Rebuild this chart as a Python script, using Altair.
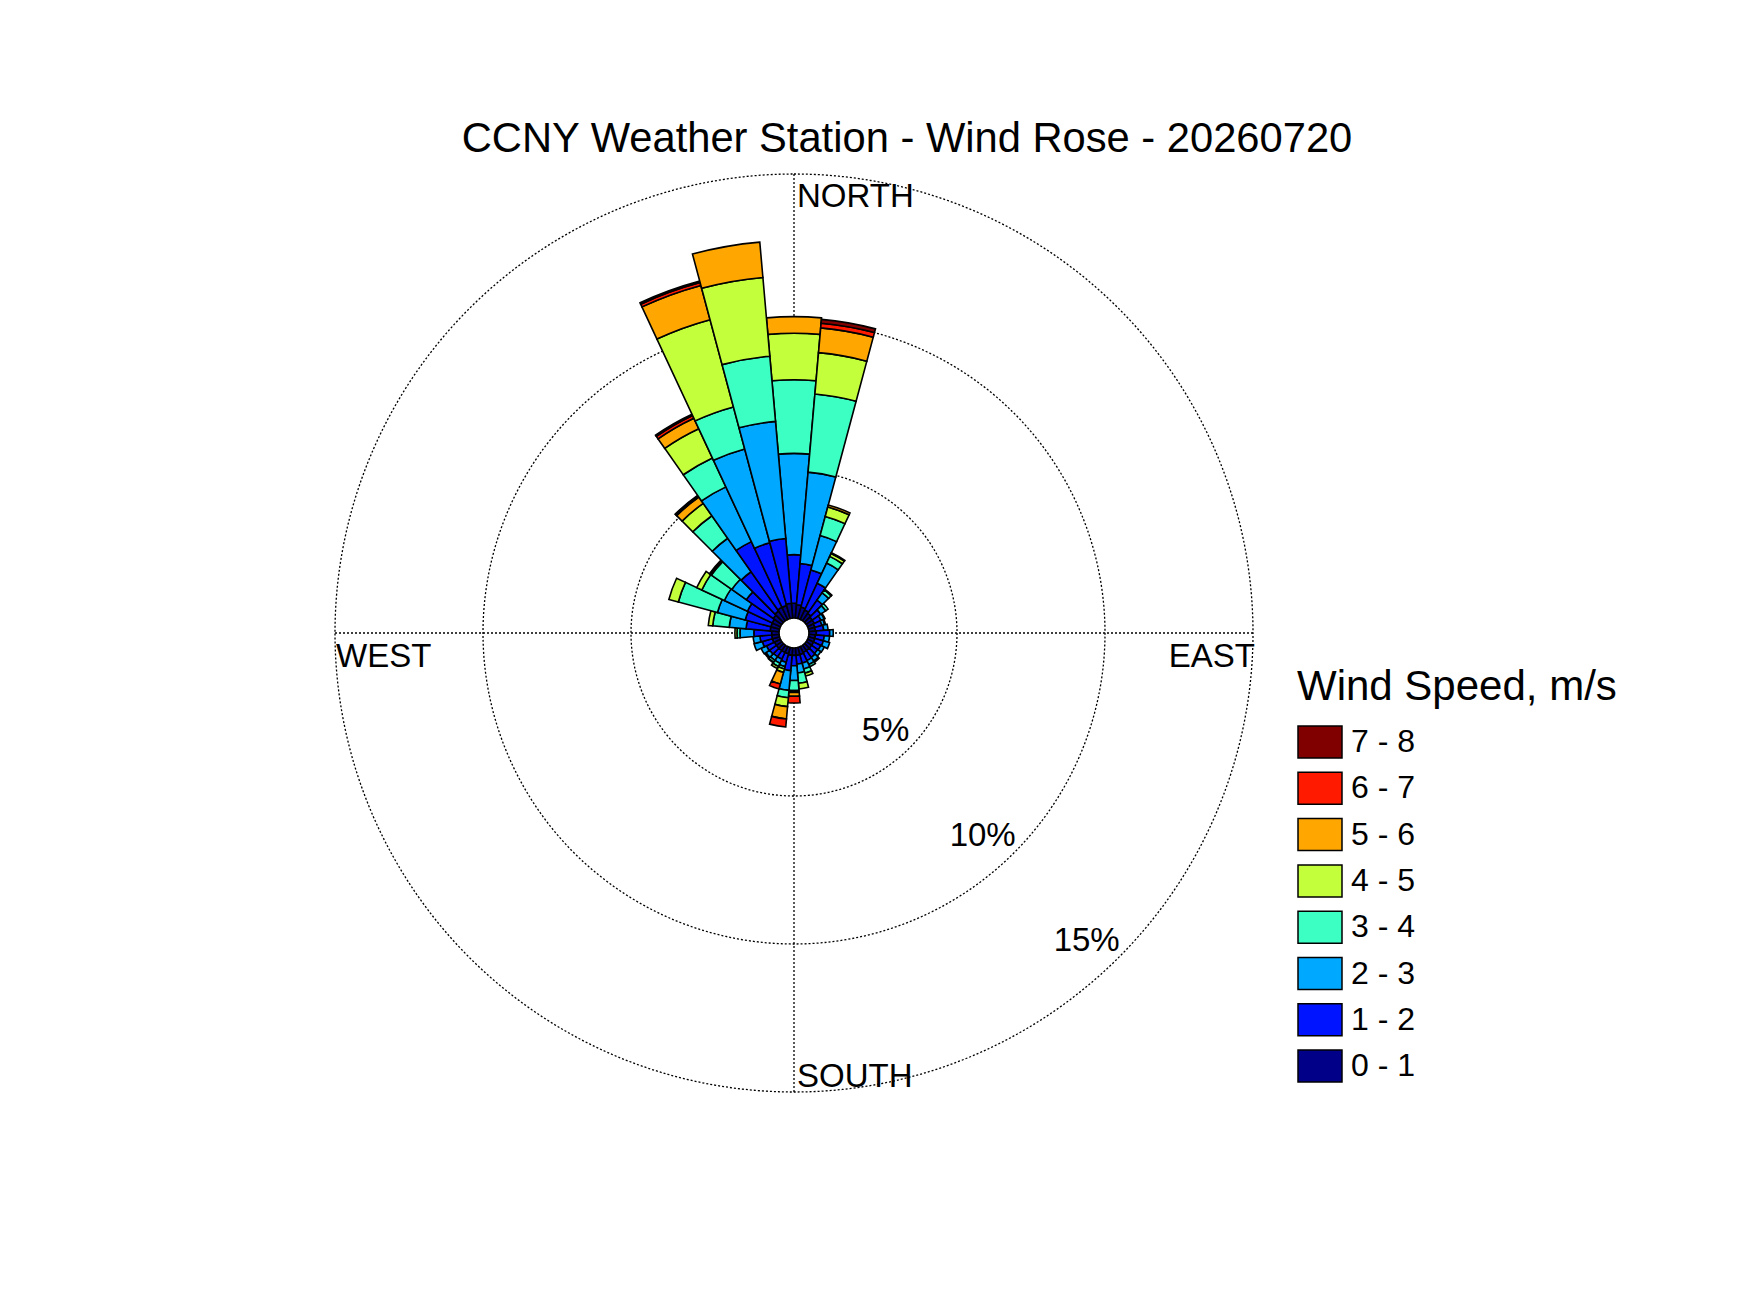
import math
import altair as alt
import pandas as pd

# ---------------- data ----------------
directions = list(range(0, 360, 10))
speed_labels = ["0 - 1", "1 - 2", "2 - 3", "3 - 4", "4 - 5", "5 - 6", "6 - 7", "7 - 8"]

# percent frequency per direction (0..350 step 10) for each speed class
s_0_1 = [0.50, 0.45, 0.40, 0.35, 0.30, 0.25, 0.25, 0.22, 0.22, 0.25, 0.22, 0.22,
         0.22, 0.22, 0.22, 0.22, 0.25, 0.25, 0.25, 0.25, 0.22, 0.22, 0.22, 0.22,
         0.22, 0.25, 0.25, 0.25, 0.30, 0.30, 0.30, 0.35, 0.40, 0.45, 0.45, 0.50]
s_1_2 = [1.64, 1.40, 1.30, 1.00, 0.55, 0.35, 0.25, 0.25, 0.28, 0.45, 0.30, 0.30,
         0.27, 0.25, 0.28, 0.30, 0.30, 0.30, 0.35, 0.52, 0.30, 0.25, 0.25, 0.28,
         0.30, 0.35, 0.40, 0.60, 0.82, 0.90, 0.93, 1.11, 1.62, 2.45, 2.20, 2.20]
s_2_3 = [3.42, 3.10, 1.20, 0.75, 0.30, 0.20, 0.12, 0.10, 0.15, 0.12, 0.18, 0.22,
         0.13, 0.13, 0.15, 0.15, 0.20, 0.30, 0.50, 0.67, 0.15, 0.15, 0.15, 0.15,
         0.20, 0.29, 0.23, 0.47, 0.57, 0.97, 0.86, 0.60, 1.38, 2.04, 3.28, 3.97]
s_3_4 = [2.49, 2.65, 0.67, 0.25, 0.12, 0.10, 0.03, 0.03, 0.00, 0.00, 0.00, 0.00,
         0.00, 0.00, 0.05, 0.08, 0.15, 0.35, 0.34, 0.25, 0.08, 0.12, 0.08, 0.05,
         0.00, 0.00, 0.00, 0.10, 0.56, 1.37, 0.84, 0.84, 0.93, 1.08, 1.47, 2.21]
s_4_5 = [1.57, 1.40, 0.33, 0.11, 0.03, 0.00, 0.00, 0.00, 0.00, 0.00, 0.00, 0.00,
         0.00, 0.00, 0.00, 0.00, 0.10, 0.19, 0.06, 0.30, 0.12, 0.08, 0.02, 0.00,
         0.00, 0.00, 0.00, 0.07, 0.15, 0.33, 0.19, 0.05, 0.51, 1.09, 3.05, 2.67]
s_5_6 = [0.56, 0.84, 0.07, 0.03, 0.00, 0.00, 0.00, 0.00, 0.00, 0.00, 0.00, 0.00,
         0.00, 0.00, 0.00, 0.00, 0.00, 0.00, 0.13, 0.42, 0.41, 0.00, 0.00, 0.00,
         0.00, 0.00, 0.00, 0.00, 0.00, 0.00, 0.00, 0.03, 0.26, 0.39, 1.20, 1.20]
s_6_7 = [0.00, 0.16, 0.00, 0.00, 0.00, 0.00, 0.00, 0.00, 0.00, 0.00, 0.00, 0.00,
         0.00, 0.00, 0.00, 0.00, 0.00, 0.00, 0.23, 0.27, 0.17, 0.00, 0.00, 0.00,
         0.00, 0.00, 0.00, 0.00, 0.00, 0.00, 0.00, 0.00, 0.05, 0.10, 0.10, 0.00]
s_7_8 = [0.00, 0.13, 0.00, 0.00, 0.00, 0.00, 0.00, 0.00, 0.00, 0.00, 0.00, 0.00,
         0.00, 0.00, 0.00, 0.00, 0.00, 0.00, 0.00, 0.00, 0.00, 0.00, 0.00, 0.00,
         0.00, 0.00, 0.00, 0.00, 0.00, 0.00, 0.00, 0.00, 0.02, 0.05, 0.05, 0.00]
series = [s_0_1, s_1_2, s_2_3, s_3_4, s_4_5, s_5_6, s_6_7, s_7_8]

speed_colors = ["#000088", "#0014FF", "#00A8FF", "#3CFFC4",
                "#C4FF3C", "#FFA600", "#FF1A00", "#800000"]

ring_values = [5, 10, 15]
ring_labels = ["5%", "10%", "15%"]
title_text = "CCNY Weather Station - Wind Rose - 20260720"
legend_title = "Wind Speed, m/s"

# ---------------- layout constants ----------------
FONT = "Liberation Sans"
W, H = 1734, 1297
CX, CY = 786, 625
R_HOLE, R_MAX = 15, 459
BIN = 10

rows = []
for i, d in enumerate(directions):
    cum = 0.0
    start = d - BIN / 2 if d > 0 else 360 - BIN / 2
    for k, s in enumerate(series):
        v = s[i]
        if v > 0:
            rows.append(dict(direction=d, speed=speed_labels[k], t0=start, t1=start + BIN,
                             r0=cum, r1=cum + v))
            cum += v
df = pd.DataFrame(rows)

theta_scale = alt.Scale(domain=[0, 360], range=[0, 2 * math.pi])
r_scale = alt.Scale(domain=[0, 15], range=[R_HOLE, R_MAX])

one = pd.DataFrame({"a": [0]})
center = dict(x=alt.value(CX), y=alt.value(CY))

# grid: cross lines
hline = alt.Chart(one).mark_rule(color="black", strokeWidth=1.3, strokeDash=[2, 2]).encode(
    x=alt.value(CX - R_MAX), x2=alt.value(CX + R_MAX), y=alt.value(CY))
vline = alt.Chart(one).mark_rule(color="black", strokeWidth=1.3, strokeDash=[2, 2]).encode(
    y=alt.value(CY - R_MAX), y2=alt.value(CY + R_MAX), x=alt.value(CX))

# grid: rings
rings = alt.Chart(pd.DataFrame({"ring": ring_values})).mark_arc(
    filled=False, stroke="black", strokeWidth=1.3, strokeDash=[2, 2]
).encode(
    theta=alt.value(0), theta2=alt.value(2 * math.pi),
    radius=alt.Radius("ring:Q", scale=r_scale, stack=False),
    **center,
)

hole = alt.Chart(one).mark_arc(fill="white", stroke="white").encode(
    theta=alt.value(0), theta2=alt.value(2 * math.pi), radius=alt.value(R_HOLE), **center)

legend_order = speed_labels[::-1]
legend_colors = speed_colors[::-1]

bars = alt.Chart(df).mark_arc(stroke="black", strokeWidth=1.6).encode(
    theta=alt.Theta("t0:Q", scale=theta_scale, stack=False),
    theta2="t1:Q",
    radius=alt.Radius("r1:Q", scale=r_scale, stack=False),
    radius2="r0:Q",
    color=alt.Color(
        "speed:N",
        scale=alt.Scale(domain=legend_order, range=legend_colors),
        legend=alt.Legend(
            title=legend_title, orient="none", legendX=1289, legendY=659, padding=0,
            titleFont=FONT, titleFontSize=42, titleFontWeight="normal", titleColor="black",
            titlePadding=10, titleLimit=600,
            labelFont=FONT, labelFontSize=32, labelColor="black", labelOffset=8, labelLimit=300,
            symbolType="M-1,-0.727L1,-0.727L1,0.727L-1,0.727Z", symbolSize=1936,
            symbolStrokeColor="black", symbolStrokeWidth=1.5, symbolOpacity=1, rowPadding=4.3,
        ),
    ),
    **center,
)


def label(text, x, y, size=33, align="left", baseline="alphabetic"):
    return alt.Chart(one).mark_text(
        text=text, font=FONT, fontSize=size, align=align, baseline=baseline, color="black"
    ).encode(x=alt.value(x), y=alt.value(y))


texts = [
    label(title_text, 899, 144, size=41.7, align="center"),
    label("NORTH", CX + 3, 199),
    label("SOUTH", CX + 3, 1079),
    label("WEST", CX - R_MAX + 1, 659),
    label("EAST", CX + R_MAX + 2, 659, align="right"),
    label(ring_labels[0], 877.5, 723, baseline="middle", align="center"),
    label(ring_labels[1], 974.7, 828, baseline="middle", align="center"),
    label(ring_labels[2], 1078.7, 933, baseline="middle", align="center"),
]

chart = alt.layer(hline, vline, rings, hole, bars, *texts).properties(
    width=W, height=H, autosize=alt.AutoSizeParams(type="none"), padding=0
).configure_view(strokeWidth=0)

chart.save("out.html", embed_options={"renderer": "svg", "actions": False})
